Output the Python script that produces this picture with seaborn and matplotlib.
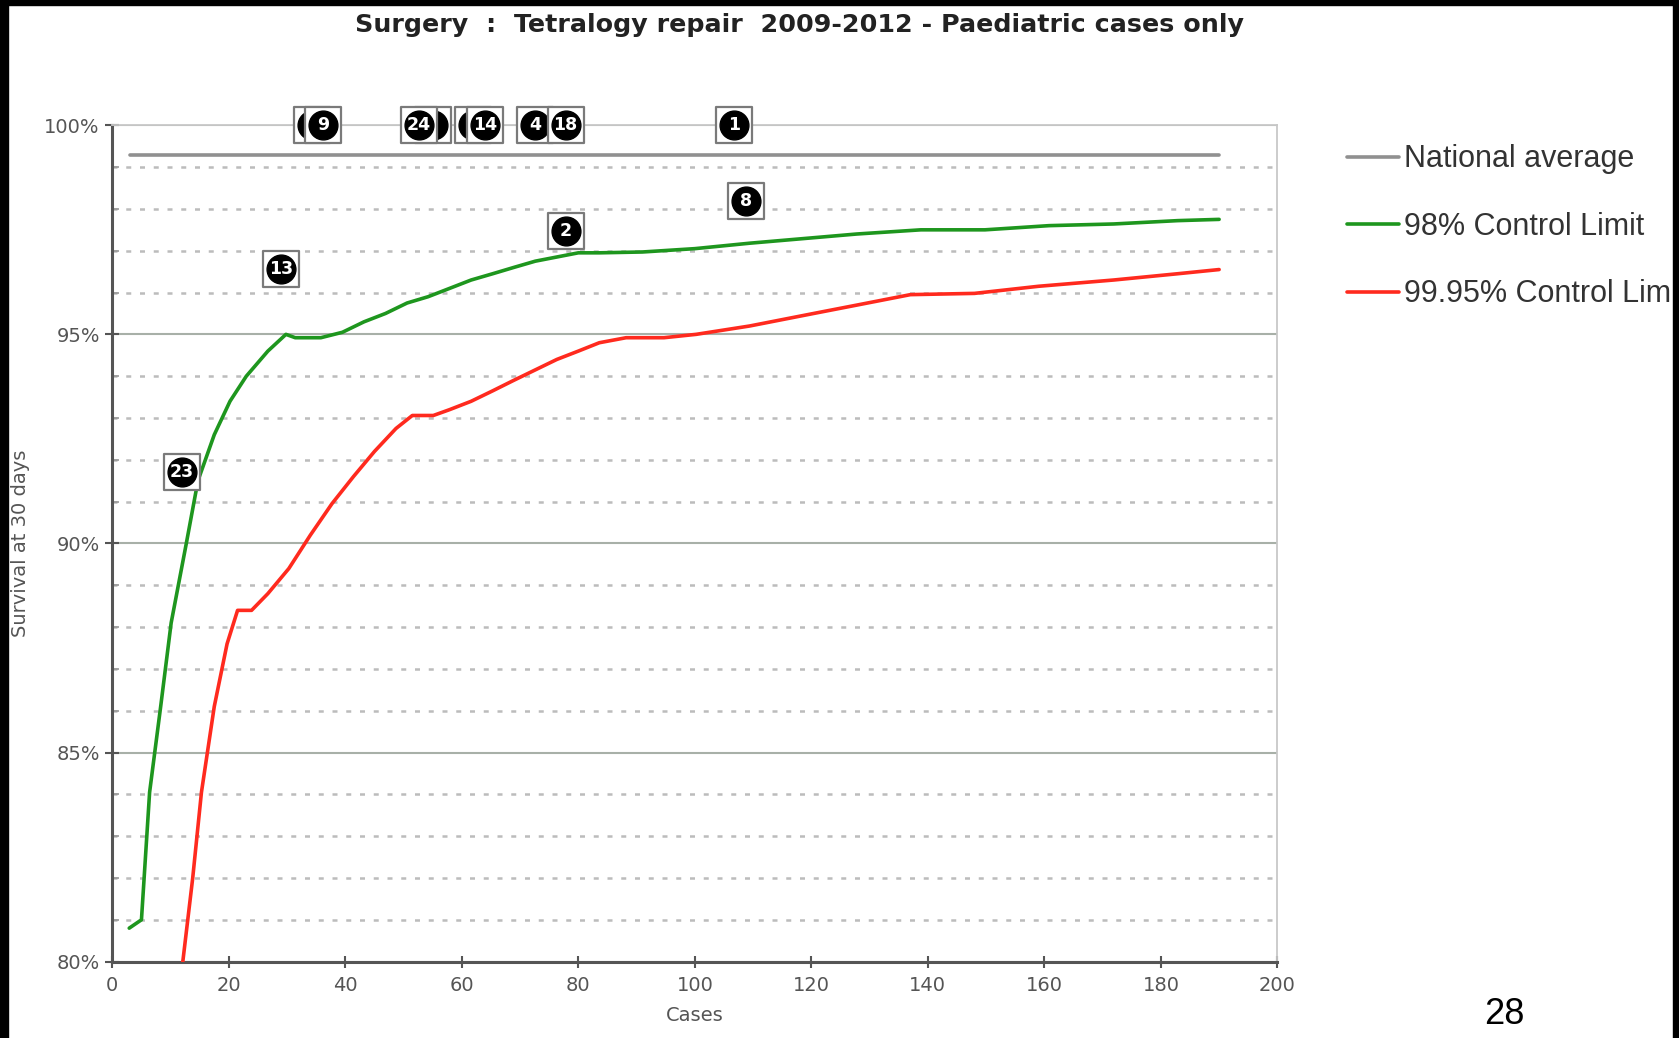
import matplotlib
matplotlib.use("Agg")
import numpy as np
import pandas as pd
import seaborn as sns
import matplotlib.pyplot as plt
from matplotlib.patches import Rectangle
from matplotlib.ticker import MultipleLocator, FuncFormatter

# 98% control limit
green_cases = [2.9, 5.0, 6.4, 8.3, 10.1, 12.7, 14.7, 17.5, 20.2, 23.0, 26.7, 29.8,
               31.4, 35.8, 39.5, 43.2, 46.9, 50.6, 54.2, 57.9, 61.6, 65.3, 68.9,
               72.6, 76.3, 80.0, 83.6, 91.0, 100.0, 109.4, 118.6, 127.8, 138.8,
               149.8, 160.8, 171.9, 182.9, 190.0]
green_survival = [80.8, 81.0, 84.05, 86.1, 88.1, 90.0, 91.5, 92.6, 93.4, 94.0, 94.6, 95.0,
                  94.92, 94.92, 95.05, 95.3, 95.5, 95.75, 95.9, 96.1, 96.3, 96.45, 96.6,
                  96.75, 96.85, 96.95, 96.95, 96.97, 97.05, 97.18, 97.29, 97.4, 97.5,
                  97.5, 97.6, 97.64, 97.72, 97.75]

# 99.95% control limit
red_cases = [12.1, 13.8, 15.3, 17.5, 19.7, 21.5, 23.9, 26.7, 30.3, 34.0, 37.7, 41.4,
             45.0, 48.7, 51.5, 55.1, 57.9, 61.6, 65.3, 68.9, 72.6, 76.3, 80.0, 83.6,
             88.2, 94.7, 100.2, 109.4, 120.4, 127.8, 137.0, 148.0, 159.0, 171.9,
             182.9, 190.0]
red_survival = [80.0, 82.0, 84.05, 86.1, 87.6, 88.4, 88.4, 88.8, 89.4, 90.2, 90.95, 91.6,
                92.2, 92.75, 93.06, 93.06, 93.2, 93.4, 93.65, 93.9, 94.15, 94.4, 94.6,
                94.8, 94.92, 94.92, 95.0, 95.2, 95.5, 95.7, 95.95, 95.98, 96.15, 96.3,
                96.45, 96.55]

national_cases = [3, 190]
national_survival = [99.28, 99.28]

# units (drawing order: later ones sit on top)
unit_cases = [34.3, 36.2, 55.0, 52.6, 62.0, 64.0, 72.6, 77.8, 106.8, 108.8, 77.9, 28.9, 11.9]
unit_survival = [100, 100, 100, 100, 100, 100, 100, 100, 100, 98.18, 97.46, 96.57, 91.7]
unit_labels = ["", "9", "", "24", "", "14", "4", "18", "1", "8", "2", "13", "23"]

sns.set_theme(style="white")
narrow = ["Liberation Sans Narrow", "DejaVu Sans"]
plt.rcParams["font.family"] = ["Liberation Sans", "DejaVu Sans"]

fig = plt.figure(figsize=(16.79, 10.38), dpi=100)
ax = fig.add_axes([0.0669, 0.0736, 0.6939, 0.8057])

nat_df = pd.DataFrame({"Cases": national_cases, "Survival": national_survival})
grn_df = pd.DataFrame({"Cases": green_cases, "Survival": green_survival})
red_df = pd.DataFrame({"Cases": red_cases, "Survival": red_survival})

sns.lineplot(data=nat_df, x="Cases", y="Survival", ax=ax, color="#909090", lw=2.6,
             label="National average", zorder=3)
sns.lineplot(data=grn_df, x="Cases", y="Survival", ax=ax, color="#1e961e", lw=2.6,
             label="98% Control Limit", zorder=3)
sns.lineplot(data=red_df, x="Cases", y="Survival", ax=ax, color="#ff2a1e", lw=2.6,
             label="99.95% Control Limit", zorder=3)

z = 5
for cx, cy, lab in zip(unit_cases, unit_survival, unit_labels):
    ax.scatter([cx], [cy], marker="s", s=660, facecolor="white", edgecolor="#7a7a7a",
               linewidths=1.6, zorder=z, clip_on=False)
    ax.scatter([cx], [cy], marker="o", s=430, facecolor="black", edgecolor="black",
               zorder=z + 0.1, clip_on=False)
    if lab:
        ax.text(cx, cy, lab, color="white", ha="center", va="center", fontsize=12.5,
                fontweight="bold", family=narrow, zorder=z + 0.2, clip_on=False)
    z += 1

ax.set_xlim(0, 200)
ax.set_ylim(80, 100)
ax.xaxis.set_major_locator(MultipleLocator(20))
ax.yaxis.set_major_locator(MultipleLocator(5))
ax.yaxis.set_minor_locator(MultipleLocator(1))
ax.yaxis.set_major_formatter(FuncFormatter(lambda v, p: f"{v:.0f}%"))

ax.grid(axis="y", which="major", color="#a8b0a8", lw=1.5, ls="-", zorder=1)
ax.grid(axis="y", which="minor", color="#bcbcbc", lw=1.8, ls=(0, (2, 3.5)), zorder=1)
ax.set_axisbelow(True)

for s in ["left", "bottom"]:
    ax.spines[s].set_color("#555555")
    ax.spines[s].set_linewidth(2.2)
for s in ["top", "right"]:
    ax.spines[s].set_color("#c8c8c8")
    ax.spines[s].set_linewidth(1.3)

ax.tick_params(axis="y", which="major", direction="inout", length=10, width=1.5,
               color="#555555", left=True, labelsize=14, labelcolor="#555555", pad=4)
ax.tick_params(axis="y", which="minor", direction="in", length=5, width=1.2,
               color="#999999", left=True)
ax.tick_params(axis="x", which="major", direction="inout", length=9, width=1.5,
               color="#555555", bottom=True, labelsize=14, labelcolor="#555555", pad=6)
for t in ax.get_xticklabels() + ax.get_yticklabels():
    t.set_family(narrow)

ax.set_xlabel("Cases", fontsize=14, color="#555555", family=narrow, labelpad=8)
ax.set_ylabel("Survival at 30 days", fontsize=14, color="#555555", family=narrow, labelpad=10)

ax.get_legend().remove()
handles, labels = ax.get_legend_handles_labels()
leg = fig.legend(handles, labels, loc="upper left", bbox_to_anchor=(0.802, 0.861),
                 frameon=False, fontsize=22, handlelength=1.72, handletextpad=0.15,
                 labelspacing=1.23, borderpad=0, borderaxespad=0)
for t in leg.get_texts():
    t.set_color("#333333")

fig.text(0.476, 0.976, "Surgery  :  Tetralogy repair  2009-2012 - Paediatric cases only",
         ha="center", va="center", fontsize=18.3, fontweight="bold", color="#222222",
         family=["DejaVu Sans"])
fig.text(0.896, 0.023, "28", ha="center", va="center", fontsize=26, color="black")

# black frame strips of the original slide
fig.patches.append(Rectangle((0, 0), 8 / 1679, 1, transform=fig.transFigure,
                             color="black", zorder=10))
fig.patches.append(Rectangle((0, 1 - 5 / 1038), 1, 5 / 1038, transform=fig.transFigure,
                             color="black", zorder=10))
fig.patches.append(Rectangle((1 - 6 / 1679, 0), 6 / 1679, 1, transform=fig.transFigure,
                             color="black", zorder=10))

fig.savefig("out.png", dpi=100)
